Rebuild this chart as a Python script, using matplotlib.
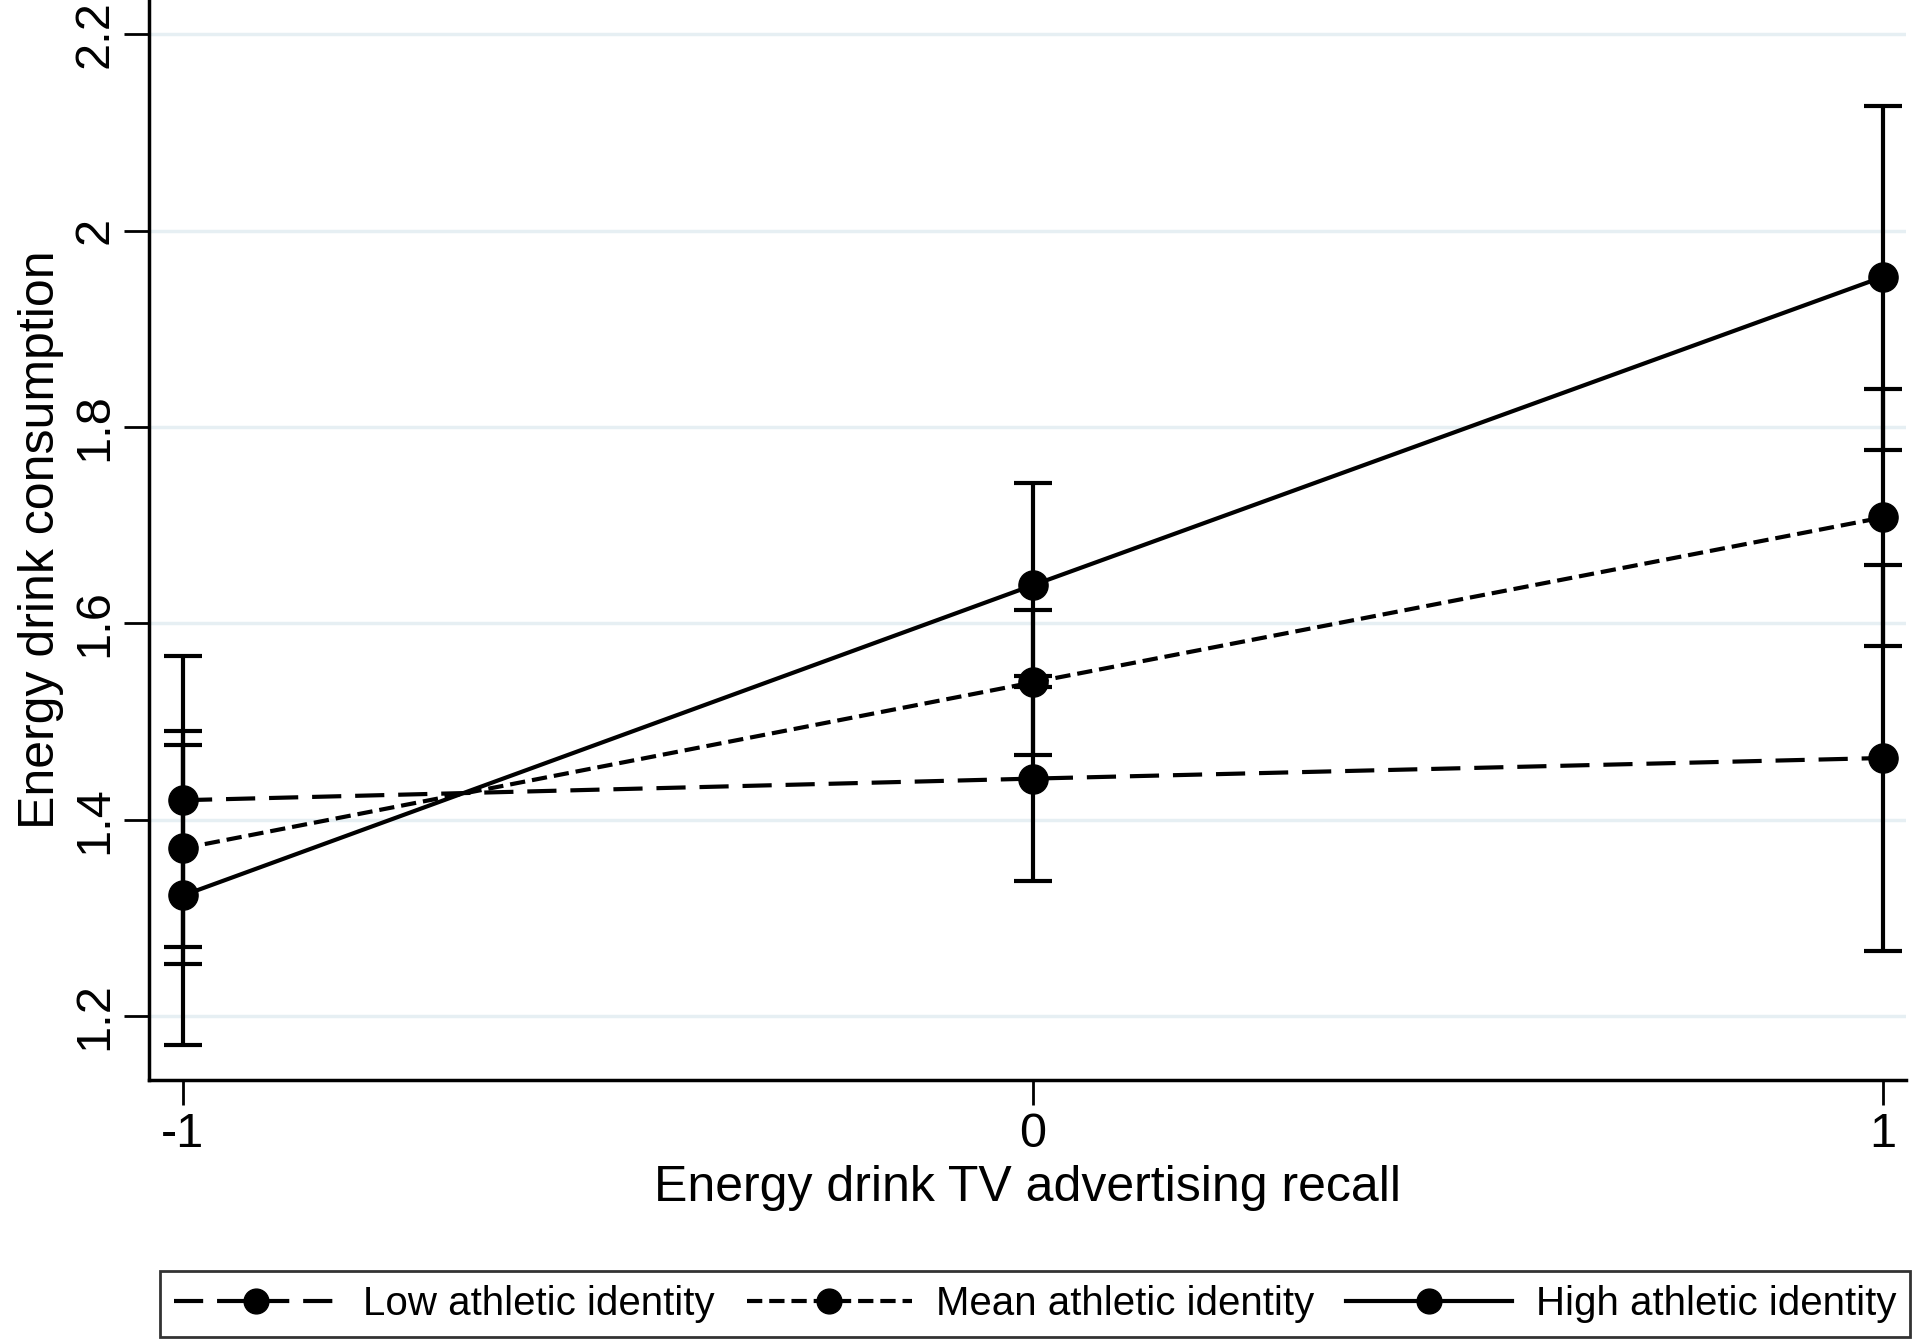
import matplotlib
matplotlib.use('Agg')
import matplotlib.pyplot as plt

plt.rcParams['font.family'] = ['Liberation Sans', 'DejaVu Sans']
plt.rcParams['lines.scale_dashes'] = False

recall = [-1, 0, 1]

low_mean = [1.420, 1.442, 1.463]
low_lo = [1.271, 1.338, 1.266]
low_hi = [1.567, 1.546, 1.660]

mid_mean = [1.371, 1.540, 1.708]
mid_lo = [1.253, 1.466, 1.577]
mid_hi = [1.490, 1.614, 1.839]

high_mean = [1.323, 1.639, 1.953]
high_lo = [1.171, 1.535, 1.777]
high_hi = [1.476, 1.743, 2.127]

labels = ['Low athletic identity', 'Mean athletic identity', 'High athletic identity']
yticks = [1.2, 1.4, 1.6, 1.8, 2.0, 2.2]
ytick_labels = ['1.2', '1.4', '1.6', '1.8', '2', '2.2']

fig = plt.figure(figsize=(19.2, 13.4), dpi=100)
ax = fig.add_axes([0.0776, 0.194, 0.915, 0.806])

styles = [(0, (21, 10)), (0, (11, 5)), '-']
series = [(low_mean, low_lo, low_hi), (mid_mean, mid_lo, mid_hi), (high_mean, high_lo, high_hi)]

for (m, lo, hi), ls, lab in zip(series, styles, labels):
    err = [[a - b for a, b in zip(m, lo)], [b - a for a, b in zip(m, hi)]]
    ax.errorbar(recall, m, yerr=err, fmt='none', ecolor='black', elinewidth=3,
                capsize=14, capthick=3, zorder=2)
    ax.plot(recall, m, color='black', linestyle=ls, linewidth=3, marker='o',
            markersize=21, markerfacecolor='black', markeredgecolor='black', label=lab, zorder=3)

ax.set_xlim(-1.04, 1.027)
ax.set_ylim(1.135, 2.235)
ax.set_xticks(recall)
ax.set_xticklabels(['-1', '0', '1'])
ax.set_yticks(yticks)
ax.set_yticklabels(ytick_labels, rotation=90, va='center')
ax.tick_params(axis='both', labelsize=35, length=18, width=2, direction='out', pad=5)
ax.yaxis.grid(True, color='#e6eff3', linewidth=2.5)
ax.set_axisbelow(True)
for s in ['top', 'right']:
    ax.spines[s].set_visible(False)
for s in ['left', 'bottom']:
    ax.spines[s].set_linewidth(2.5)

ax.set_xlabel('Energy drink TV advertising recall', fontsize=36, labelpad=6)
ax.set_ylabel('Energy drink consumption', fontsize=36, labelpad=6)

leg = fig.legend(loc='lower center', bbox_to_anchor=(0.539, 0.002),
                 ncol=3, fontsize=29, frameon=True, fancybox=False, handlelength=4.1,
                 handletextpad=0.6, columnspacing=0.8, borderpad=0.35, borderaxespad=0,
                 markerscale=0.85)
leg.get_frame().set_edgecolor('black')
leg.get_frame().set_linewidth(2)

fig.savefig('out.png', dpi=100)
